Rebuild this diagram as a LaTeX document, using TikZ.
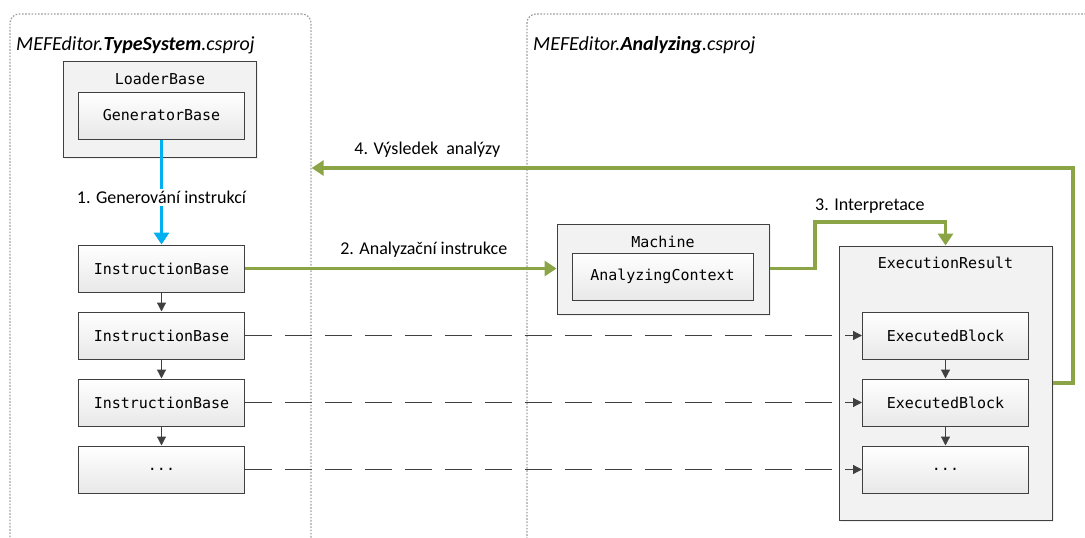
\documentclass[tikz,border=0pt]{standalone}
\usepackage{fontspec}
\setmainfont{Carlito}
\setmonofont{DejaVu Sans Mono}
\usetikzlibrary{positioning,arrows.meta,shadows}

\definecolor{flowgreen}{HTML}{8BA446}
\definecolor{genblue}{HTML}{00B0F0}
\definecolor{boxline}{HTML}{404040}

\begin{document}
\begin{tikzpicture}[
        x=1pt, y=-1pt,
        node distance=19pt,
        project/.style={draw=gray!75, line width=1.3pt, dash pattern=on 1.6pt off 1.6pt, rounded corners=9pt},
        title/.style={anchor=west, inner sep=0pt, font=\fontsize{20}{24}\selectfont\itshape},
        outer/.style={draw=boxline, line width=1pt, fill=black!5, drop shadow={shadow xshift=2pt, shadow yshift=-2pt, opacity=0.12}},
        block/.style={rectangle, draw=boxline, line width=1pt, top color=white, bottom color=black!9, minimum width=166pt, minimum height=47pt, font=\fontsize{15}{18}\selectfont\ttfamily},
        caption/.style={inner sep=0pt, font=\fontsize{15}{18}\selectfont\ttfamily},
        label/.style={fill=white, inner sep=2pt, font=\fontsize{18}{21}\selectfont},
        flow/.style={line width=3.5pt, draw=flowgreen, -{Triangle[width=15pt,length=12pt]}},
        gen/.style={line width=3.5pt, draw=genblue, -{Triangle[width=15pt,length=12pt]}},
        next/.style={draw=boxline, line width=1.2pt, -{Triangle[width=9pt,length=9pt]}},
        link/.style={next, dash pattern=on 27pt off 13pt}
    ]
        \useasboundingbox (0,0) rectangle (1085,538);

        % Projects
        \node[project, minimum width=301pt, minimum height=560pt] (typesys) at (160.5,294) {};
        \node[project, minimum width=600pt, minimum height=560pt] (analyzing) at (827,294) {};
        \node[title] (typesystitle) at (16,45) {MEFEditor.\textbf{TypeSystem}.csproj};
        \node[title] (analyzingtitle) at (533,45) {MEFEditor.\textbf{Analyzing}.csproj};

        % Outer boxes
        \node[outer, minimum width=193pt, minimum height=96pt] (loader) at (159.5,109) {};
        \node[outer, minimum width=212pt, minimum height=90pt] (machine) at (663,269) {};
        \node[outer, minimum width=213pt, minimum height=274pt] (exres) at (945.5,383) {};
        \node[caption] (loaderlbl) at (160,79) {LoaderBase};
        \node[caption] (machinelbl) at (663,242) {Machine};
        \node[caption] (exreslbl) at (945.5,263) {ExecutionResult};

        % Nodes
        \node[block] (gen) at (161.5,115.5) {GeneratorBase};
        \node[block, minimum width=181pt] (actx) at (662.5,276.5) {AnalyzingContext};
        \node[block] (ib1) at (161.5,268.5) {InstructionBase};
        \node[block, below=of ib1] (ib2) {InstructionBase};
        \node[block, below=of ib2] (ib3) {InstructionBase};
        \node[block, below=of ib3] (ib4) {...};
        \node[block] (eb1) at (exres |- ib2) {ExecutedBlock};
        \node[block, below=of eb1] (eb2) {ExecutedBlock};
        \node[block, below=of eb2] (eb3) {...};

        \coordinate (turn3) at (815,222);
        \coordinate (turn4) at (1073,168);

        % Arrows
        \draw[gen] (gen) -- node[label, pos=0.55] (genlbl) {1. Generování instrukcí} (ib1);
        \draw[flow] (ib1.east) -- node[label, above=7pt, pos=0.574] (flowlbl) {2. Analyzační instrukce} (ib1.east -| machine.west);
        \draw[flow] (machine.east |- ib1) -| (turn3) -| (exres.north);
        \node[label, fill=none, anchor=south west, inner sep=0pt] (interplbl) at ([yshift=8pt]turn3) {3. Interpretace};
        \draw[flow] (exres.east) -| (turn4) -- node[label, above=7pt, pos=0.848] (resultlbl) {4. Výsledek~~analýzy} (typesys.east |- turn4);
        \foreach \a/\b in {ib1/ib2, ib2/ib3, ib3/ib4, eb1/eb2, eb2/eb3}
            \draw[next] (\a) -- (\b);
        \foreach \a/\b in {ib2/eb1, ib3/eb2, ib4/eb3}
            \draw[link] (\a) -- (\b);

    \end{tikzpicture}
\end{document}
